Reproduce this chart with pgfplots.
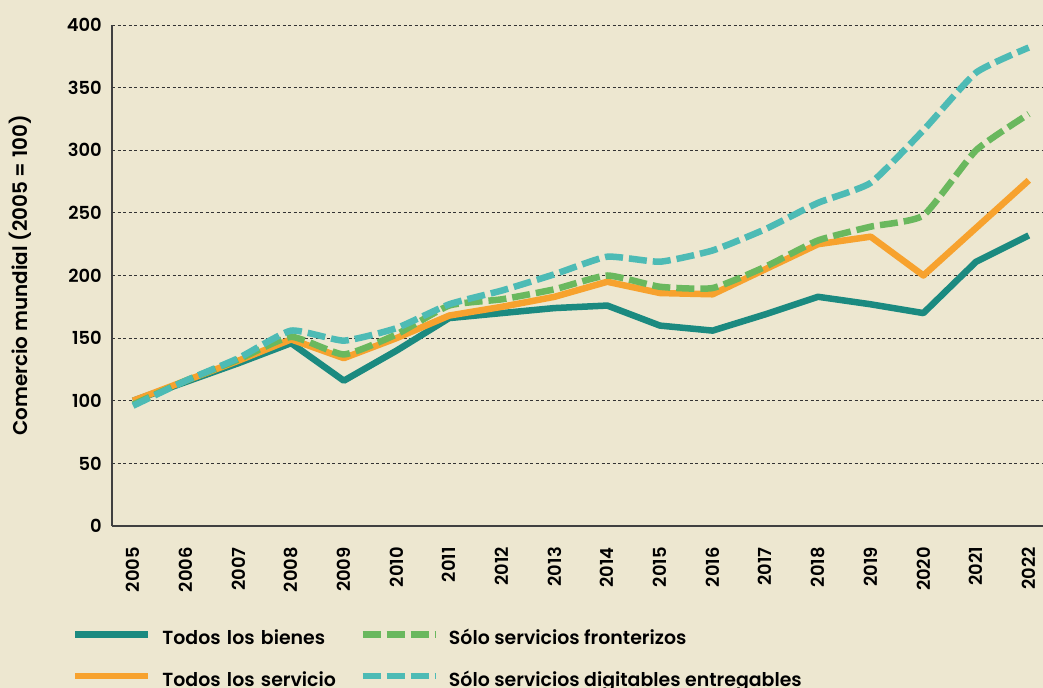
\documentclass[border=0pt]{standalone}
\usepackage{pgfplots}
\pgfplotsset{compat=1.18}
\usepackage{fontspec}
\setmainfont{Poppins}[BoldFont={Poppins SemiBold}]

\definecolor{bgc}{HTML}{EDE7D0}
\definecolor{cBienes}{HTML}{1B8A80}
\definecolor{cServ}{HTML}{F7A22E}
\definecolor{cFront}{HTML}{6AB85E}
\definecolor{cDigit}{HTML}{4DBBB5}

\begin{document}
\begin{tikzpicture}
\fill[bgc] (0,0) rectangle (1043bp,688bp);
\begin{axis}[
  at={(112bp,162bp)}, anchor=south west,
  scale only axis, width=931bp, height=501bp,
  xmin=2004.6, xmax=2022.27, ymin=0, ymax=400,
  xtick={2005,...,2022}, ytick={0,50,...,400},
  major tick length=0pt,
  axis x line*=bottom, axis y line*=left,
  axis line style={black!75,line width=1.4bp},
  ymajorgrids, grid style={black!80,line width=0.9bp,dash pattern=on 3bp off 2.5bp},
  /pgf/number format/assume math mode=true,
  tick label style={font=\fontsize{18}{21}\selectfont\bfseries},
  xticklabel style={/pgf/number format/1000 sep={},yshift=-21bp,rotate=90,anchor=east,inner sep=0pt},
  yticklabel style={inner sep=0pt,xshift=-10bp},
  ylabel={Comercio mundial (2005 = 100)},
  ylabel style={at={(axis description cs:-0.099,0.5)},anchor=center,font=\fontsize{20}{23}\selectfont\bfseries},
  clip=false,
  legend columns=2, transpose legend,
  legend cell align=left,
  legend image code/.code={\draw[#1] (0bp,6bp) -- (73bp,6bp);},
  legend style={
    at={(axis description cs:-0.043,-0.2096)}, anchor=north west,
    draw=none, fill=none, inner sep=0pt, outer sep=0pt,
    font=\fontsize{19}{22}\selectfont\bfseries,
    row sep=24bp,
    nodes={inner sep=0pt, text height=13bp, text depth=4bp},
    /tikz/column 1/.style={column sep=11bp},
    /tikz/column 2/.style={column sep=12bp, nodes={text width=185bp, align=left}},
    /tikz/column 3/.style={column sep=10bp},
  },
]
\addplot[cBienes,line width=6.5bp,line join=round,sharp plot] coordinates {
 (2005,100) (2006,115) (2007,130) (2008,146) (2009,116) (2010,140) (2011,166) (2012,170) (2013,174)
 (2014,176) (2015,160) (2016,156) (2017,169) (2018,183) (2019,177) (2020,170) (2021,211) (2022,232)};
\addlegendentry{Todos los bienes}
\addplot[cServ,line width=6.5bp,line join=round,sharp plot] coordinates {
 (2005,100) (2006,116) (2007,132) (2008,149) (2009,134) (2010,150) (2011,168) (2012,175) (2013,183)
 (2014,195) (2015,186) (2016,185) (2017,205) (2018,225) (2019,231) (2020,200) (2021,238) (2022,276)};
\addlegendentry{Todos los servicio}
\addplot[cFront,line width=6.5bp,smooth,tension=0.3,dash pattern=on 18bp off 6bp] coordinates {
 (2005,97) (2006,116) (2007,133) (2008,151) (2009,137) (2010,153) (2011,176) (2012,181) (2013,189)
 (2014,200) (2015,191) (2016,190) (2017,207) (2018,228) (2019,239) (2020,248) (2021,300) (2022,329)};
\addlegendentry{Sólo servicios fronterizos}
\addplot[cDigit,line width=6.5bp,smooth,tension=0.3,dash pattern=on 18bp off 6bp] coordinates {
 (2005,96) (2006,116) (2007,134) (2008,156) (2009,148) (2010,158) (2011,177) (2012,188) (2013,201)
 (2014,215) (2015,211) (2016,220) (2017,237) (2018,258) (2019,274) (2020,316) (2021,362) (2022,382)};
\addlegendentry{Sólo servicios digitables entregables}
\end{axis}
\pgfresetboundingbox
\useasboundingbox (0,0) rectangle (1043bp,688bp);
\end{tikzpicture}
\end{document}
